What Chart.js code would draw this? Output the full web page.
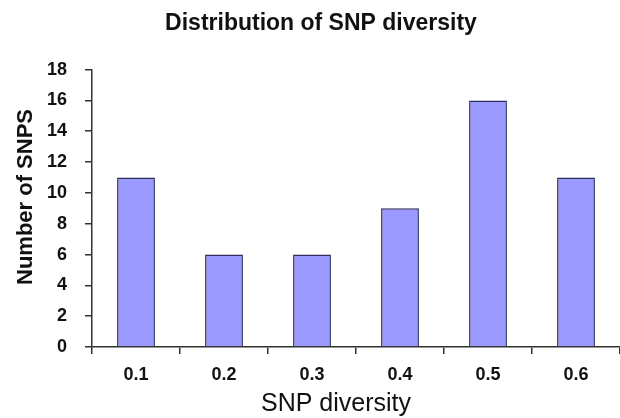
<!DOCTYPE html>
<html>
<head>
<meta charset="utf-8">
<script src="https://cdn.jsdelivr.net/npm/chart.js@4/dist/chart.umd.min.js"></script>
<style>
  html, body { margin: 0; padding: 0; background: #fff; }
  #wrap { width: 620px; height: 418px; }
</style>
</head>
<body>
<div id="wrap"><canvas id="myChart"></canvas></div>
<script>
// data
var categories = ['0.1', '0.2', '0.3', '0.4', '0.5', '0.6'];
var snpCounts = [11, 6, 6, 9, 16, 11];
var yTickMin = 0, yTickMax = 18, yTickStep = 2;

var fontFamily = "'Liberation Sans', Arial, sans-serif";
var axisColor = '#333';
var textColor = '#111';

// axis titles sit a bit off-centre in the original, so draw them by hand
var axisTitles = {
  id: 'axisTitles',
  afterDraw: function(chart) {
    var c = chart.ctx;
    c.save();
    c.fillStyle = textColor;
    c.textAlign = 'center';
    c.textBaseline = 'middle';
    // y title
    c.font = 'bold 22px ' + fontFamily;
    c.translate(26, 197);
    c.rotate(-Math.PI / 2);
    c.fillText('Number of SNPS', 0, 0);
    c.restore();
    c.save();
    c.fillStyle = textColor;
    c.textAlign = 'center';
    c.textBaseline = 'middle';
    c.font = '25px ' + fontFamily;
    c.fillText('SNP diversity', 336, 404);
    c.restore();
  }
};

var ctx = document.getElementById('myChart').getContext('2d');
var myChart = new Chart(ctx, {
  type: 'bar',
  data: {
    labels: categories,
    datasets: [{
      label: 'Number of SNPS',
      data: snpCounts,
      backgroundColor: '#9999ff',
      borderColor: '#2e2e5c',
      borderWidth: 1.5,
      barPercentage: 0.43,
      categoryPercentage: 1.0
    }]
  },
  plugins: [axisTitles],
  options: {
    responsive: true,
    maintainAspectRatio: false,
    animation: false,
    layout: { padding: { left: 22, right: 0, top: 0, bottom: 0 } },
    plugins: {
      legend: { display: false },
      tooltip: { enabled: false },
      title: {
        display: true,
        text: 'Distribution of SNP diversity',
        color: textColor,
        font: { family: fontFamily, size: 23, weight: 'bold' },
        padding: { top: 10, bottom: 32 }
      }
    },
    scales: {
      x: {
        afterFit: function(scale) { scale.height = 71; },
        grid: {
          offset: true,
          drawOnChartArea: false,
          drawTicks: true,
          tickLength: 7,
          color: axisColor,
          lineWidth: 1.5
        },
        border: { color: axisColor, width: 1.5 },
        ticks: {
          color: textColor,
          padding: 10,
          font: { family: fontFamily, size: 18, weight: 'bold' }
        }
      },
      y: {
        min: yTickMin,
        max: yTickMax,
        afterFit: function(scale) { scale.width = 70; },
        grid: {
          drawOnChartArea: false,
          drawTicks: true,
          tickLength: 7,
          color: axisColor,
          lineWidth: 1.5
        },
        border: { color: axisColor, width: 1.5 },
        ticks: {
          stepSize: yTickStep,
          color: textColor,
          padding: 18,
          font: { family: fontFamily, size: 18, weight: 'bold' }
        }
      }
    }
  }
});
</script>
</body>
</html>
